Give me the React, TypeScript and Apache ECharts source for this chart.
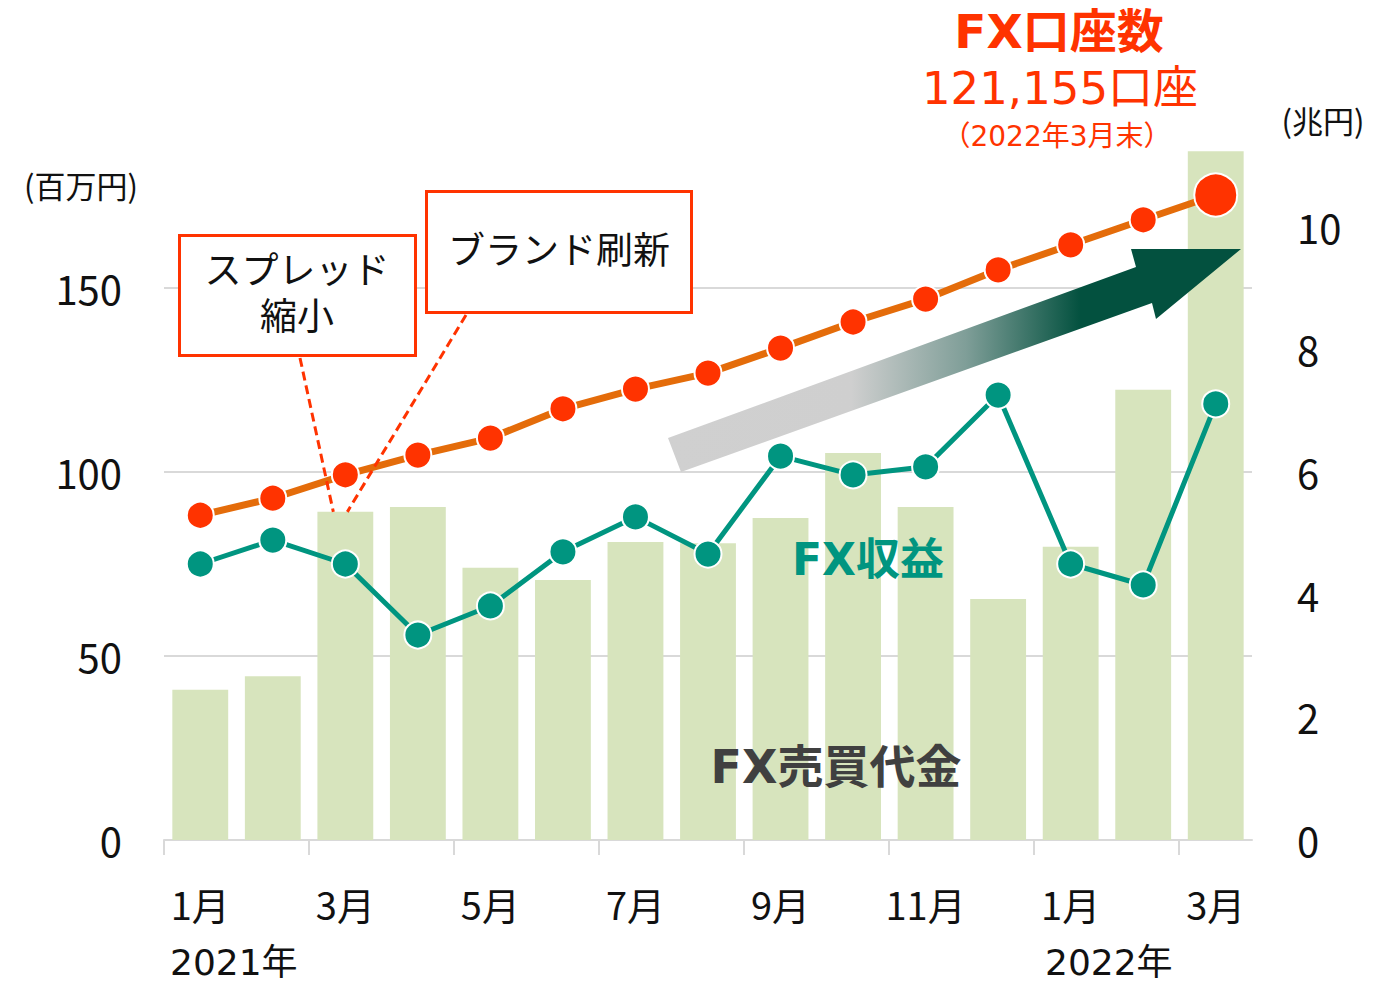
import React, { useEffect, useRef } from "react";
import * as echarts from "echarts";

// Categories: months Jan 2021 – Mar 2022
const months = [
  "2021-01", "2021-02", "2021-03", "2021-04", "2021-05", "2021-06", "2021-07", "2021-08",
  "2021-09", "2021-10", "2021-11", "2021-12", "2022-01", "2022-02", "2022-03",
];
const monthLabels = [
  "1月", "2月", "3月", "4月", "5月", "6月", "7月", "8月", "9月", "10月", "11月", "12月", "1月", "2月", "3月",
];
// FX売買代金 (兆円) – bars, right axis
const tradingVolume = [2.45, 2.67, 5.35, 5.43, 4.44, 4.24, 4.86, 4.84, 5.25, 6.31, 5.43, 3.93, 4.78, 7.34, 11.23];
// FX収益 (百万円) – teal line, left axis
const fxRevenue = [75.0, 81.5, 75.0, 55.7, 63.6, 78.3, 87.8, 77.7, 104.3, 99.2, 101.4, 120.9, 75.0, 69.3, 118.5];
// FX口座数 – orange line, hidden axis
const fxAccounts = [61000, 64200, 68600, 72300, 75500, 81000, 84700, 87700, 92400, 97300, 101600, 107100, 111800, 116500, 121155];

const leftAxis = { min: 0, max: 200, interval: 50 };
const rightAxis = { min: 0, max: 12, interval: 2 };
const accountAxis = { min: 0, max: 138250 };

const CJK = '"Noto Sans CJK JP", "Noto Sans CJK SC", sans-serif';
const LATIN_CJK = '"DejaVu Sans", "Noto Sans CJK JP", sans-serif';

export default function App() {
  const ref = useRef<HTMLDivElement>(null);

  useEffect(() => {
    document.body.style.margin = "0";
    if (!ref.current) return;
    const chart = echarts.init(ref.current, undefined, { renderer: "svg" });

    const lastIdx = fxAccounts.length - 1;

    chart.setOption({
      animation: false,
      backgroundColor: "#ffffff",
      grid: { left: 164, right: 147, top: 104, bottom: 142, containLabel: false },
      xAxis: {
        type: "category",
        data: months,
        boundaryGap: true,
        axisLine: { show: true, lineStyle: { color: "#d9d9d9", width: 2 } },
        axisTick: { show: false },
        axisLabel: {
          interval: 1,
          formatter: (_v: string, i: number) => monthLabels[i],
          margin: 44,
          fontSize: 38,
          color: "#111111",
          fontFamily: CJK,
        },
        splitLine: { show: false },
      },
      yAxis: [
        {
          type: "value",
          min: leftAxis.min,
          max: leftAxis.max,
          interval: leftAxis.interval,
          position: "left",
          axisLine: { show: false },
          axisTick: { show: false },
          axisLabel: {
            showMaxLabel: false,
            margin: 42,
            fontSize: 40,
            color: "#111111",
            fontFamily: CJK,
          },
          splitLine: {
            show: true,
            showMinLine: false,
            showMaxLine: false,
            lineStyle: { color: "#d9d9d9", width: 2 },
          },
        },
        {
          type: "value",
          min: rightAxis.min,
          max: rightAxis.max,
          interval: rightAxis.interval,
          position: "right",
          axisLine: { show: false },
          axisTick: { show: false },
          axisLabel: {
            showMaxLabel: false,
            margin: 45,
            fontSize: 40,
            color: "#111111",
            fontFamily: CJK,
          },
          splitLine: { show: false },
        },
        {
          type: "value",
          min: accountAxis.min,
          max: accountAxis.max,
          show: false,
          splitLine: { show: false },
        },
      ],
      series: [
        {
          name: "FX売買代金",
          type: "bar",
          yAxisIndex: 1,
          data: tradingVolume,
          barCategoryGap: "23%",
          itemStyle: { color: "#d7e4bd" },
          z: 1,
        },
        {
          name: "FX収益",
          type: "line",
          yAxisIndex: 0,
          data: fxRevenue,
          symbol: "circle",
          symbolSize: 27,
          lineStyle: { color: "#009580", width: 5 },
          itemStyle: { color: "#009580", borderColor: "#ffffff", borderWidth: 2 },
          z: 4,
        },
        {
          name: "FX口座数",
          type: "line",
          yAxisIndex: 2,
          data: fxAccounts.map((v, i) => (i === lastIdx ? { value: v, symbolSize: 43 } : v)),
          symbol: "circle",
          symbolSize: 27,
          lineStyle: { color: "#e46c0a", width: 7 },
          itemStyle: { color: "#ff3300", borderColor: "#ffffff", borderWidth: 2 },
          z: 4,
        },
      ],
    });

    // anchor of the dashed callout lines: top of the March 2021 bar
    const anchor = chart.convertToPixel({ xAxisIndex: 0, yAxisIndex: 1 }, [2, tradingVolume[2]]) as number[];

    // x-axis ticks at the left boundary of every other category (no tick at the far end)
    const c0 = chart.convertToPixel({ xAxisIndex: 0 }, 0) as unknown as number;
    const c1 = chart.convertToPixel({ xAxisIndex: 0 }, 1) as unknown as number;
    const band = c1 - c0;
    const axisY = chart.convertToPixel({ yAxisIndex: 1 }, 0) as unknown as number;
    const tickEls: any[] = [];
    for (let i = 0; i < months.length; i += 2) {
      const cx = chart.convertToPixel({ xAxisIndex: 0 }, i) as unknown as number;
      const x = Math.round(cx - band / 2);
      tickEls.push({
        type: "line",
        z: 2,
        shape: { x1: x, y1: axisY, x2: x, y2: axisY + 15 },
        style: { stroke: "#d9d9d9", lineWidth: 2 },
      });
    }

    const arrowGradient = new echarts.graphic.LinearGradient(0, 0, 1, 0, [
      { offset: 0, color: "#d0d0d0" },
      { offset: 0.32, color: "#cfcfcf" },
      { offset: 0.52, color: "#7f9e98" },
      { offset: 0.72, color: "#03513f" },
      { offset: 1, color: "#03513f" },
    ]);

    const textStyle = (text: string, x: number, y: number, fill: string, font: string, align = "center") => ({
      type: "text",
      z: 8,
      style: { text, x, y, fill, font, textAlign: align, textVerticalAlign: "middle" },
    });

    chart.setOption({
      graphic: [
        ...tickEls,
        // arrow
        {
          type: "polygon",
          z: 3,
          shape: {
            points: [
              [668, 438],
              [1136, 267],
              [1131, 249],
              [1241, 249],
              [1156, 319],
              [1152, 303],
              [681, 472],
            ],
          },
          style: { fill: arrowGradient },
        },
        // callout dashed lines
        {
          type: "line",
          z: 6,
          shape: { x1: 300, y1: 358, x2: anchor[0] - 12, y2: anchor[1] },
          style: { stroke: "#ff3300", lineWidth: 3, lineDash: [9, 5] },
        },
        {
          type: "line",
          z: 6,
          shape: { x1: 466, y1: 315, x2: anchor[0] + 2, y2: anchor[1] },
          style: { stroke: "#ff3300", lineWidth: 3, lineDash: [9, 5] },
        },
        // callout boxes
        {
          type: "rect",
          z: 7,
          shape: { x: 179.5, y: 235.5, width: 236, height: 120 },
          style: { fill: "#ffffff", stroke: "#ff3300", lineWidth: 3 },
        },
        {
          type: "text",
          z: 8,
          style: {
            text: "スプレッド\n縮小",
            x: 297,
            y: 294,
            fill: "#111111",
            font: `37px ${LATIN_CJK}`,
            lineHeight: 46,
            textAlign: "center",
            textVerticalAlign: "middle",
          },
        },
        {
          type: "rect",
          z: 7,
          shape: { x: 426.5, y: 191.5, width: 265, height: 121 },
          style: { fill: "#ffffff", stroke: "#ff3300", lineWidth: 3 },
        },
        textStyle("ブランド刷新", 559, 248, "#111111", `37px ${CJK}`),
        // unit labels
        textStyle("(百万円)", 81, 184, "#111111", `31px ${CJK}`),
        textStyle("(兆円)", 1323, 119, "#111111", `31px ${CJK}`),
        // title block
        textStyle("FX口座数", 1059, 31, "#ff3300", `bold 47px ${LATIN_CJK}`),
        textStyle("121,155口座", 1060, 88, "#ff3300", `45px ${LATIN_CJK}`),
        textStyle("（2022年3月末）", 1057, 136, "#ff3300", `28px ${LATIN_CJK}`),
        // series labels
        textStyle("FX収益", 868, 559, "#009580", `bold 44px ${LATIN_CJK}`),
        textStyle("FX売買代金", 836, 767, "#404040", `bold 46px ${LATIN_CJK}`),
        // year labels
        textStyle("2021年", 170, 962, "#111111", `36px ${LATIN_CJK}`, "left"),
        textStyle("2022年", 1045, 962, "#111111", `36px ${LATIN_CJK}`, "left"),
      ],
    });

    return () => {
      chart.dispose();
    };
  }, []);

  return <div ref={ref} style={{ width: 1399, height: 982 }} />;
}
